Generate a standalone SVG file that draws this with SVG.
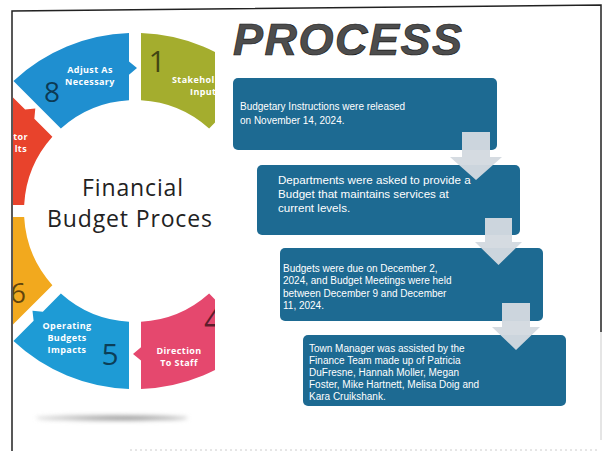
<svg xmlns="http://www.w3.org/2000/svg" width="605" height="451" viewBox="0 0 605 451">
  <defs>
    <style>
      .seg-label { font-family: "Open Sans", "Liberation Sans", sans-serif; font-weight: bold; font-size: 9px; letter-spacing: 0.4px; fill: #ffffff; text-anchor: middle; }
      .seg-num { font-family: "Open Sans", "Liberation Sans", sans-serif; fill: #000000; fill-opacity: 0.6; }
      .center { font-family: "Open Sans", "Liberation Sans", sans-serif; font-size: 23px; fill: #222222; }
      .title { font-family: "Liberation Sans", Arial, sans-serif; font-weight: bold; font-style: italic; font-size: 45px; letter-spacing: 1.5px; fill: #4d4d4d; stroke: #1a1a1a; stroke-width: 0.7; }
      .box { fill: #1d6a92; }
      .box-text { font-family: "Liberation Sans", Arial, sans-serif; font-size: 10px; fill: #ffffff; }
      .box-text.large { font-size: 11.6px; }
      .flow { fill: #d3dae0; fill-opacity: 0.96; }
    </style>
    <!-- one 45-degree ring segment (position 1, top), with an arrow tip on its clockwise end -->
    <path id="segment" d="M141,33.1 A178,178 0 0 1 256.55,80.96 L236.39,101.13 L237.52,111.3 L227.19,110.33 L209.13,128.38 A111,111 0 0 0 141,100.16 Z"/>
    <clipPath id="ring-clip">
      <rect x="13" y="12" width="202" height="420"/>
    </clipPath>
    <filter id="soft" x="-20%" y="-200%" width="140%" height="500%">
      <feGaussianBlur stdDeviation="2.2"/>
    </filter>
    <radialGradient id="shadow-fill" cx="0.6" cy="0.5" r="0.5">
      <stop offset="0" stop-color="#8a8a8a"/>
      <stop offset="1" stop-color="#d0d0d0"/>
    </radialGradient>
  </defs>

  <rect width="605" height="451" fill="#ffffff"/>

  <!-- page frame -->
  <g id="frame" fill="none">
    <path d="M12,451 L12,11 L601,5 L601,332" stroke="#222222" stroke-width="1.5"/>
    <path d="M601,332 L601,440" stroke="#999999" stroke-width="1" opacity="0.5"/>
    <path d="M130,450 L600,450" stroke="#aaaaaa" stroke-width="1" stroke-dasharray="2 3" opacity="0.6"/>
  </g>

  <!-- budget cycle ring -->
  <g id="cycle" clip-path="url(#ring-clip)">
    <g id="seg-1">
      <use href="#segment" fill="#a4ad2e"/>
      <text class="seg-num" x="157" y="72" font-size="30" text-anchor="middle">1</text>
      <text class="seg-label" x="172" y="83" style="text-anchor:start">Stakehol</text>
      <text class="seg-label" x="190" y="95" style="text-anchor:start">Input</text>
    </g>
    <g id="seg-4">
      <use href="#segment" fill="#e5486e" transform="rotate(135 135 211)"/>
      <text class="seg-num" x="204" y="332" font-size="32">4</text>
      <text class="seg-label" x="179" y="354">Direction</text>
      <text class="seg-label" x="179" y="366">To Staff</text>
    </g>
    <g id="seg-5">
      <use href="#segment" fill="#1e9bd5" transform="rotate(180 135 211)"/>
      <text class="seg-num" x="110" y="365" font-size="30" text-anchor="middle">5</text>
      <text class="seg-label" x="67" y="329">Operating</text>
      <text class="seg-label" x="67" y="341">Budgets</text>
      <text class="seg-label" x="67" y="353">Impacts</text>
    </g>
    <g id="seg-6">
      <use href="#segment" fill="#f2a91e" transform="rotate(225 135 211)"/>
      <text class="seg-num" x="26" y="303" font-size="28" text-anchor="end">6</text>
    </g>
    <g id="seg-7">
      <use href="#segment" fill="#e8432c" transform="rotate(270 135 211)"/>
      <text class="seg-label" x="28" y="140" style="text-anchor:end">itor</text>
      <text class="seg-label" x="27" y="152" style="text-anchor:end">lts</text>
    </g>
    <g id="seg-8">
      <use href="#segment" fill="#1f8fd0" transform="rotate(315 135 211)"/>
      <text class="seg-num" x="52" y="102" font-size="28" text-anchor="middle">8</text>
      <text class="seg-label" x="90" y="73">Adjust As</text>
      <text class="seg-label" x="90" y="85">Necessary</text>
    </g>
    <g id="cycle-title">
      <text class="center" x="82" y="196" textLength="101" lengthAdjust="spacing">Financial</text>
      <text class="center" x="47" y="227" textLength="165" lengthAdjust="spacing">Budget Proces</text>
    </g>
  </g>

  <!-- soft floor shadow under the ring -->
  <ellipse cx="112" cy="418" rx="76" ry="3" fill="url(#shadow-fill)" filter="url(#soft)"/>

  <!-- heading -->
  <g id="heading">
    <text class="title" x="233" y="55">PROCESS</text>
  </g>

  <!-- process steps -->
  <g id="step-1">
    <rect class="box" x="233" y="78" width="264" height="72" rx="5"/>
    <text class="box-text" x="240" y="110">Budgetary Instructions were released</text>
    <text class="box-text" x="240" y="124">on November 14, 2024.</text>
  </g>
  <g id="step-2">
    <rect class="box" x="257" y="165" width="263" height="70" rx="5"/>
    <text class="box-text large" x="278" y="184">Departments were asked to provide a</text>
    <text class="box-text large" x="278" y="198">Budget that maintains services at</text>
    <text class="box-text large" x="278" y="212">current levels.</text>
  </g>
  <g id="step-3">
    <rect class="box" x="280" y="248" width="263" height="73" rx="5"/>
    <text class="box-text" x="283" y="272">Budgets were due on December 2,</text>
    <text class="box-text" x="283" y="284">2024, and Budget Meetings were held</text>
    <text class="box-text" x="283" y="297">between December 9 and December</text>
    <text class="box-text" x="283" y="309">11, 2024.</text>
  </g>
  <g id="step-4">
    <rect class="box" x="303" y="335" width="263" height="71" rx="5"/>
    <text class="box-text" x="309" y="352">Town Manager was assisted by the</text>
    <text class="box-text" x="309" y="364">Finance Team made up of Patricia</text>
    <text class="box-text" x="309" y="376">DuFresne, Hannah Moller, Megan</text>
    <text class="box-text" x="309" y="388">Foster, Mike Hartnett, Melisa Doig and</text>
    <text class="box-text" x="309" y="400">Kara Cruikshank.</text>
  </g>

  <!-- down arrows between steps -->
  <g id="connectors">
    <polygon class="flow" points="462,132 490,132 490,157 502,157 476,180 450,157 462,157"/>
    <polygon class="flow" points="485,218 512,218 512,242 522,242 498.5,265 475,242 485,242"/>
    <polygon class="flow" points="502,303 530,303 530,327 540,327 516,350 492,327 502,327"/>
  </g>
</svg>
